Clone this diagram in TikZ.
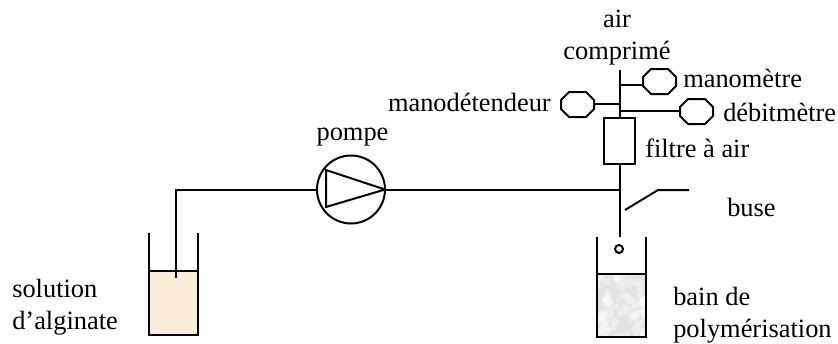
\documentclass[tikz,border=0pt]{standalone}
\usepackage{fontspec}
\setmainfont{Liberation Serif}
\tikzset{
	pipe/.style={line width=1.5pt},
	gauge/.style={rectangle, minimum width=24.75pt, minimum height=18.75pt, inner sep=0pt, outer sep=0pt,
		append after command={\pgfextra{\draw[pipe] ([xshift=6pt]\tikzlastnode.north west) -- ([xshift=-6pt]\tikzlastnode.north east)
			-- ([yshift=-6pt]\tikzlastnode.north east) -- ([yshift=6pt]\tikzlastnode.south east)
			-- ([xshift=-6pt]\tikzlastnode.south east) -- ([xshift=6pt]\tikzlastnode.south west)
			-- ([yshift=6pt]\tikzlastnode.south west) -- ([yshift=-6pt]\tikzlastnode.north west) -- cycle;}}},
	label/.style={anchor=base west, inner sep=0pt, font=\fontsize{19.8}{23}\selectfont},
	liquid/.style={anchor=north west, inner sep=0pt, outer sep=0pt, minimum width=36.75pt}
}
\begin{document}
\begin{tikzpicture}[x=0.75pt,y=-0.75pt]
	
	% Define colors
	\definecolor{alginatecolor}{RGB}{250, 238, 218}
	\definecolor{baincolor}{RGB}{228, 228, 228}
	
	\useasboundingbox (0,0) rectangle (838,343);
	
	% Draw the pump
	\node[draw, pipe, circle, minimum size=51pt, inner sep=0pt, outer sep=0pt] (pompe) at (351,189.5) {};
	\draw[pipe, line join=miter] (326,170) -- (326,207) -- (pompe.east) -- cycle;
	
	% Draw the left beaker
	\node[liquid, fill=alginatecolor, minimum height=48pt] (alginate) at (149,271) {};
	\draw[pipe] (149,233) -- (alginate.south west) -- (alginate.south east) -- (198,233);
	\draw[pipe] (alginate.north west) -- (alginate.north east);
	
	% Draw the right beaker
	\node[liquid, fill=baincolor, minimum height=47.25pt] (bain) at (597,274) {};
	\pgfmathsetseed{7}
	\begin{scope}
		\clip (bain.south west) rectangle (bain.north east);
		\foreach \n in {1,...,90}
			\fill[white, opacity=.35] (597+49*rnd,274+63*rnd) circle (2+3*rnd);
	\end{scope}
	\draw[pipe] (597,237) -- (bain.south west) -- (bain.south east) -- (646,237);
	\draw[pipe] (bain.north west) -- (bain.north east);
	\node[draw, pipe, circle, minimum size=6pt, inner sep=0pt] (goutte) at (619,249) {};
	
	% Draw the air line
	\node[draw, pipe, rectangle, minimum width=23.25pt, minimum height=34.5pt, inner sep=0pt, outer sep=0pt] (filtre) at (619.5,141) {};
	\coordinate (air) at (619.5,70);
	\coordinate (buse) at (619.5,237);
	\coordinate (jonction) at (619.5,189.5);
	\coordinate (coude) at (175.5,189.5);
	\coordinate (plongeur) at (175.5,278);
	\draw[pipe] (air) -- (filtre.north);
	\draw[pipe] (filtre.south) -- (buse);
	\draw[pipe] (plongeur) -- (coude) -- (pompe.west);
	\draw[pipe] (pompe.east) -- (jonction);
	
	% Draw the nozzle
	\coordinate (buseA) at (625,210);
	\coordinate (buseB) at (658,190);
	\coordinate (buseC) at (689,190);
	\draw[pipe] (buseA) -- (buseB) -- (buseC);
	
	% Draw the gauges
	\node[gauge] (mano) at (659.5,81.5) {};
	\node[gauge] (detendeur) at (577.5,104.5) {};
	\node[gauge] (debit) at (696.5,111.5) {};
	\coordinate (jmano) at (619.5,85);
	\coordinate (jdetendeur) at (619.5,104);
	\coordinate (jdebit) at (619.5,111);
	\draw[pipe] (jmano) -- (jmano -| mano.west);
	\draw[pipe] (jdetendeur) -- (jdetendeur -| detendeur.east);
	\draw[pipe] (jdebit) -- (jdebit -| debit.west);
	
	% Add labels
	\node[label, anchor=base] (lair) at (617,27) {air};
	\node[label, anchor=base] (lcomprime) at (617,59) {comprimé};
	\node[label] (lmano) at (683,87) {manomètre};
	\node[label, anchor=base east] (ldetendeur) at (551,111) {manodétendeur};
	\node[label] (ldebit) at (723,121) {débitmètre};
	\node[label] (lfiltre) at (645,157) {filtre à air};
	\node[label, anchor=base] (lpompe) at (352.5,140) {pompe};
	\node[label] (lbuse) at (727,216) {buse};
	\node[label] (lsolution) at (12,297) {solution};
	\node[label] (lalginate) at (12,329) {d’alginate};
	\node[label] (lbain) at (673,305) {bain de};
	\node[label] (lpoly) at (673,337) {polymérisation};
\end{tikzpicture}
\end{document}
